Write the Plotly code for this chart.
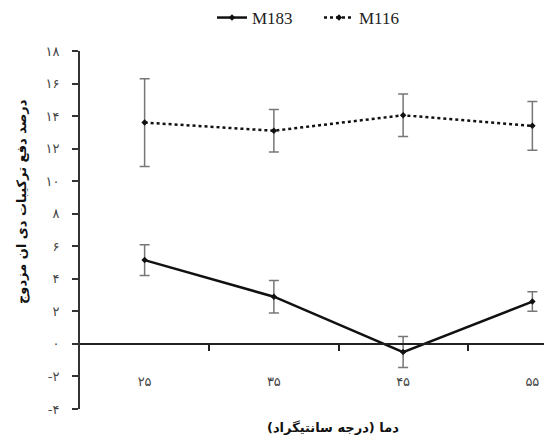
import plotly.graph_objects as go

categories = ["۲۵", "۳۵", "۴۵", "۵۵"]
m183_values = [5.15, 2.9, -0.5, 2.6]
m183_errors = [0.95, 1.0, 0.95, 0.6]
m116_values = [13.6, 13.1, 14.05, 13.4]
m116_errors = [2.7, 1.3, 1.3, 1.5]
y_tickvals = [18, 16, 14, 12, 10, 8, 6, 4, 2, 0, -2, -4]
y_ticktext = ["۱۸", "۱۶", "۱۴", "۱۲", "۱۰", "۸", "۶", "۴", "۲", "۰", "-۲", "-۴"]
y_title = "درصد دفع ترکیبات دی ان مزدوج"
x_title = "دما (درجه سانتیگراد)"

x_idx = list(range(len(categories)))
Y_MIN, Y_MAX = -4, 18
X_RANGE = [-0.5, 3.09]

W, H = 544, 446
ML, MR, MT, MB = 80, 0, 51, 37
ph = H - MT - MB

fig = go.Figure()
fig.add_trace(go.Scatter(
    x=x_idx, y=m183_values, name="M183", mode="lines+markers",
    line=dict(color="#111", width=2.5),
    marker=dict(symbol="diamond", size=5, color="#111"),
    error_y=dict(type="data", array=m183_errors, color="#777", thickness=1.5, width=5),
))
fig.add_trace(go.Scatter(
    x=x_idx, y=m116_values, name="M116", mode="lines+markers",
    line=dict(color="#111", width=2.5, dash="dot"),
    marker=dict(symbol="diamond", size=5, color="#111"),
    error_y=dict(type="data", array=m116_errors, color="#777", thickness=1.5, width=5),
))

label_pos = (H - MB - 372) / ph

fig.update_layout(
    width=W, height=H,
    margin=dict(l=ML, r=MR, t=MT, b=MB),
    paper_bgcolor="white", plot_bgcolor="white",
    showlegend=True,
    legend=dict(orientation="h", x=(212 - ML) / (W - ML - MR), xanchor="left",
                y=1 + (MT - 18) / ph, yanchor="middle",
                font=dict(family="Liberation Serif", size=17, color="#222"),
                entrywidth=62, entrywidthmode="pixels",
                tracegroupgap=0, bgcolor="rgba(0,0,0,0)"),
    xaxis=dict(range=X_RANGE, tickvals=x_idx, ticktext=categories,
               showline=False, showgrid=False, zeroline=False, ticks="",
               anchor="free", position=label_pos,
               tickfont=dict(family="DejaVu Sans", size=13, color="#444")),
    xaxis2=dict(range=X_RANGE, overlaying="x", anchor="free",
                position=(0 - Y_MIN) / (Y_MAX - Y_MIN),
                showline=True, linecolor="#222", linewidth=2,
                tickvals=[0.5, 1.5, 2.5], ticks="outside", ticklen=6,
                tickwidth=2, tickcolor="#222", showticklabels=False,
                showgrid=False, zeroline=False),
    yaxis=dict(range=[Y_MIN, Y_MAX], tickvals=y_tickvals, ticktext=y_ticktext,
               showline=True, linecolor="#333", linewidth=2,
               ticks="outside", ticklen=6, tickwidth=2, tickcolor="#333",
               ticklabelstandoff=10,
               showgrid=False, zeroline=False,
               tickfont=dict(family="DejaVu Sans", size=13, color="#444")),
    annotations=[
        dict(text="<b>" + y_title + "</b>", textangle=-90, xref="paper", yref="paper",
             x=(22 - ML) / (W - ML - MR), y=(H - MB - 202) / ph,
             xanchor="center", yanchor="middle", showarrow=False,
             font=dict(family="DejaVu Sans", size=13, color="#111")),
        dict(text="<b>" + x_title + "</b>", xref="paper", yref="paper",
             x=(333 - ML) / (W - ML - MR), y=(H - MB - 427) / ph,
             xanchor="center", yanchor="middle", showarrow=False,
             font=dict(family="DejaVu Sans", size=13, color="#111")),
    ],
)
fig.add_trace(go.Scatter(x=[], y=[], xaxis="x2", showlegend=False, hoverinfo="skip"))

fig.write_html("out.html")
